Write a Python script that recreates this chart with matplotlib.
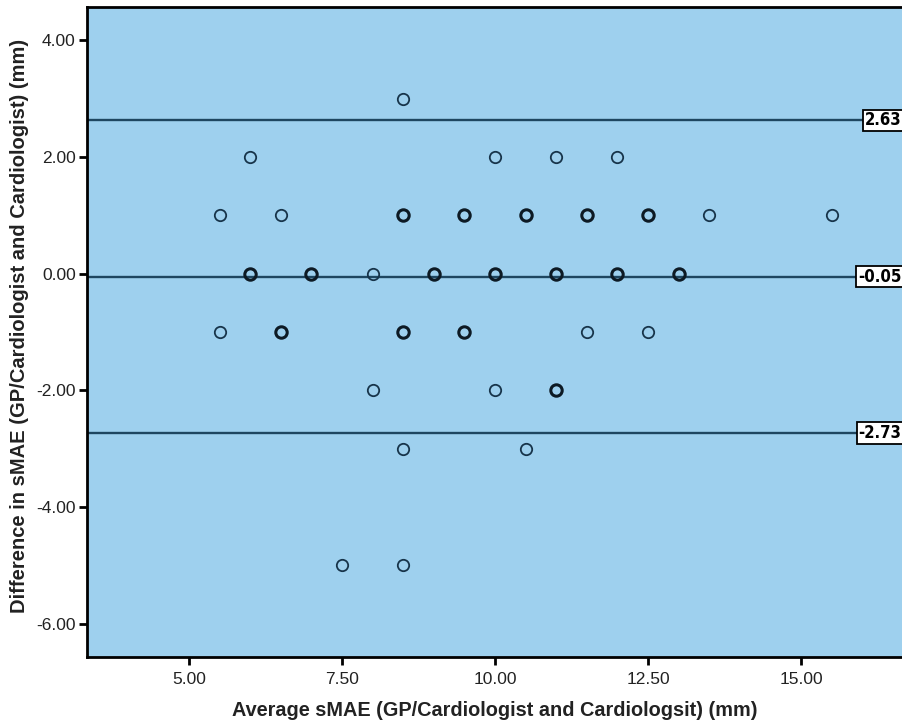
import matplotlib
matplotlib.use("Agg")
import matplotlib.pyplot as plt
import matplotlib.transforms as mtransforms

plt.rcParams['font.family'] = ['Liberation Sans', 'DejaVu Sans']

# Bland-Altman data: average, difference, number of overlapping cases
avg_vals = [8.5,
            6.0, 10.0, 11.0, 12.0,
            5.5, 6.5, 8.5, 9.5, 10.5, 11.5, 12.5, 13.5, 15.5,
            6.0, 7.0, 8.0, 9.0, 10.0, 11.0, 12.0, 13.0,
            5.5, 6.5, 8.5, 9.5, 11.5, 12.5,
            8.0, 10.0, 11.0,
            8.5, 10.5,
            7.5, 8.5]
diff_vals = [3,
             2, 2, 2, 2,
             1, 1, 1, 1, 1, 1, 1, 1, 1,
             0, 0, 0, 0, 0, 0, 0, 0,
             -1, -1, -1, -1, -1, -1,
             -2, -2, -2,
             -3, -3,
             -5, -5]
counts = [1,
          1, 1, 1, 1,
          1, 1, 2, 2, 2, 2, 2, 1, 1,
          2, 2, 1, 2, 2, 2, 2, 2,
          1, 2, 2, 2, 1, 1,
          1, 1, 2,
          1, 1,
          1, 1]

mean_diff = -0.05
upper_loa = 2.63
lower_loa = -2.73
ref_lines = [upper_loa, mean_diff, lower_loa]
ref_labels = ["2.63", "-0.05", "-2.73"]

xticks = [5.0, 7.5, 10.0, 12.5, 15.0]
yticks = [4.0, 2.0, 0.0, -2.0, -4.0, -6.0]

fig = plt.figure(figsize=(9.03, 7.27), dpi=100)
ax = fig.add_axes([0.0963, 0.0963, 0.9037, 0.894])
ax.set_facecolor('#9ed0ee')

line_col = '#1e4660'
for v in ref_lines:
    ax.axhline(v, color=line_col, lw=1.7, zorder=2)

# single and stacked points
for c in [1, 2]:
    xs = [a for a, k in zip(avg_vals, counts) if k == c]
    ys = [d for d, k in zip(diff_vals, counts) if k == c]
    ax.plot(xs, ys, 'o', ls='none', ms=8.2, mfc='none',
            mec='#17344a' if c == 1 else '#0d1a24',
            mew=1.3 if c == 1 else 2.2, zorder=3)

trans = mtransforms.blended_transform_factory(ax.transAxes, ax.transData)
for v, lab in zip(ref_lines, ref_labels):
    ax.text(0.998, v, lab, transform=trans, ha='right', va='center',
            fontsize=12, fontweight='bold', family='DejaVu Sans', stretch='condensed',
            bbox=dict(boxstyle='square,pad=0.1', fc='white', ec='black', lw=1.3),
            zorder=5)

ax.set_xlim(3.333, 16.667)
ax.set_ylim(-6.57, 4.57)
ax.set_xticks(xticks)
ax.set_xticklabels(["%.2f" % t for t in xticks])
ax.set_yticks(yticks)
ax.set_yticklabels(["%.2f" % t for t in yticks])
ax.tick_params(direction='out', length=6, width=2, labelsize=12.5, colors='black',
               labelcolor='#222222', pad=2)
ax.tick_params(axis='x', pad=5)

for s in ['left', 'bottom', 'top']:
    ax.spines[s].set_linewidth(2)
    ax.spines[s].set_color('black')
ax.spines['right'].set_visible(False)

ax.set_xlabel("Average sMAE (GP/Cardiologist and Cardiologsit) (mm)",
              fontsize=14.3, fontweight='bold', color='#222222', labelpad=10)
ax.set_ylabel("Difference in sMAE (GP/Cardiologist and Cardiologist) (mm)",
              fontsize=14.5, fontweight='bold', color='#222222')
ax.yaxis.set_label_coords(-0.071, 0.509)

fig.savefig("out.png", dpi=100)
